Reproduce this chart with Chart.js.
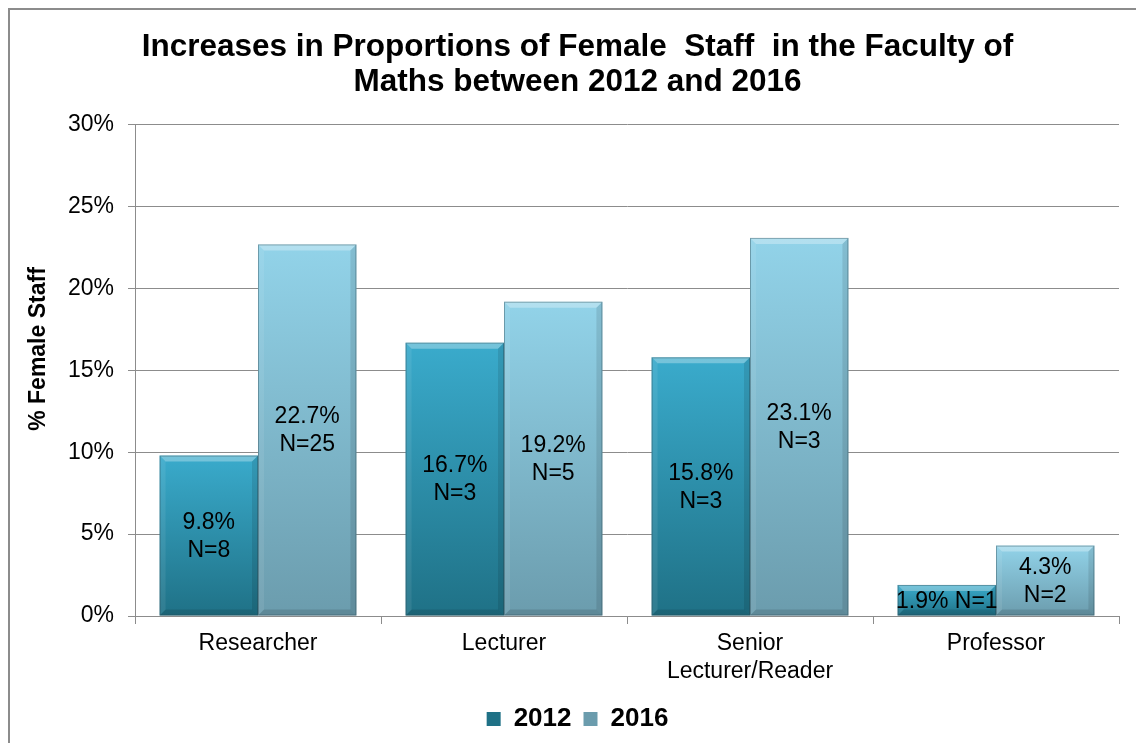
<!DOCTYPE html>
<html>
<head>
<meta charset="utf-8">
<script src="https://cdn.jsdelivr.net/npm/chart.js@4.4.1/dist/chart.umd.min.js"></script>
<style>
  html, body { margin: 0; padding: 0; background: #fff; }
  #wrap { width: 1136px; height: 743px; }
</style>
</head>
<body>
<div id="wrap"><canvas id="staffChart" width="1136" height="743"></canvas></div>
<script>
const categories = ["Researcher", "Lecturer", ["Senior", "Lecturer/Reader"], "Professor"];
const values2012 = [9.8, 16.7, 15.8, 1.9];
const values2016 = [22.7, 19.2, 23.1, 4.3];
const counts2012 = [8, 3, 3, 1];
const counts2016 = [25, 5, 3, 2];
const yTicks = [0, 5, 10, 15, 20, 25, 30];

const FONT = "'Liberation Sans', Arial, sans-serif";

/* vertical gradient across each bar */
function barFill(ctx, topColor, bottomColor, flat) {
    if (ctx.type !== "data") return flat;
    const chart = ctx.chart;
    const y = chart.scales.y;
    if (!chart.chartArea || !y) return flat;
    const y0 = y.getPixelForValue(ctx.raw);
    const y1 = y.getPixelForValue(0);
    if (!isFinite(y0) || !isFinite(y1) || y0 === y1) return flat;
    const g = chart.ctx.createLinearGradient(0, y0, 0, y1);
    g.addColorStop(0, topColor);
    g.addColorStop(1, bottomColor);
    return g;
}

/* chart frame + y axis title */
const framePlugin = {
    id: "frame",
    beforeDraw(chart) {
        const c = chart.ctx;
        c.save();
        c.fillStyle = "#fff";
        c.fillRect(0, 0, chart.width, chart.height);
        c.strokeStyle = "#8c8c8c";
        c.lineWidth = 2;
        c.strokeRect(9, 9, chart.width + 20, chart.height + 20);
        c.restore();
    },
    afterDraw(chart) {
        const c = chart.ctx;
        c.save();
        c.translate(39, 349);
        c.rotate(-Math.PI / 2);
        c.fillStyle = "#000";
        c.font = "bold 23px " + FONT;
        c.textAlign = "center";
        c.textBaseline = "middle";
        c.fillText("% Female Staff", 0, 0);
        c.restore();
    }
};

/* bevel edges + value labels */
const bevelPlugin = {
    id: "bevel",
    afterDatasetsDraw(chart) {
        const c = chart.ctx;
        const counts = [counts2012, counts2016];
        chart.data.datasets.forEach((ds, di) => {
            const meta = chart.getDatasetMeta(di);
            meta.data.forEach((bar, i) => {
                const l = bar.x - bar.width / 2, r = bar.x + bar.width / 2;
                const t = bar.y, b = bar.base;
                const e = Math.min(6, (b - t) / 2);
                c.save();
                c.fillStyle = "rgba(255,255,255,0.3)";
                c.beginPath();
                c.moveTo(l, t); c.lineTo(r, t); c.lineTo(r - e, t + e); c.lineTo(l + e, t + e);
                c.closePath(); c.fill();
                c.fillStyle = "rgba(255,255,255,0.08)";
                c.beginPath();
                c.moveTo(l, t); c.lineTo(l + e, t + e); c.lineTo(l + e, b - e); c.lineTo(l, b);
                c.closePath(); c.fill();
                c.fillStyle = "rgba(0,0,0,0.1)";
                c.beginPath();
                c.moveTo(r, t); c.lineTo(r - e, t + e); c.lineTo(r - e, b - e); c.lineTo(r, b);
                c.closePath(); c.fill();
                c.fillStyle = "rgba(0,0,0,0.12)";
                c.beginPath();
                c.moveTo(l, b); c.lineTo(l + e, b - e); c.lineTo(r - e, b - e); c.lineTo(r, b);
                c.closePath(); c.fill();
                c.strokeStyle = "rgba(40,70,80,0.4)";
                c.lineWidth = 1;
                c.strokeRect(l + 0.5, t + 0.5, r - l - 1, b - t - 1);
                c.restore();

                // labels
                const pct = ds.data[i].toFixed(1) + "%";
                const n = "N=" + counts[di][i];
                const cy = (t + b) / 2;
                c.save();
                c.fillStyle = "#000";
                c.font = "23px " + FONT;
                c.textAlign = "center";
                c.textBaseline = "middle";
                if (b - t < 50) {
                    c.fillText(pct + " " + n, bar.x, cy + 1);
                } else {
                    c.fillText(pct, bar.x, cy - 13);
                    c.fillText(n, bar.x, cy + 15);
                }
                c.restore();
            });
        });
    }
};

new Chart(document.getElementById("staffChart"), {
    type: "bar",
    data: {
        labels: categories,
        datasets: [
            {
                label: "2012",
                data: values2012,
                backgroundColor: ctx => barFill(ctx, "#3aabcc", "#1f7186", "#2e9ab6"),
                borderWidth: 0
            },
            {
                label: "2016",
                data: values2016,
                backgroundColor: ctx => barFill(ctx, "#92d3e9", "#6b9cad", "#8cc6da"),
                borderWidth: 0
            }
        ]
    },
    options: {
        responsive: false,
        animation: false,
        categoryPercentage: 0.8,
        barPercentage: 1.0,
        layout: { padding: { left: 36, right: 17, top: 0, bottom: 1 } },
        plugins: {
            title: {
                display: true,
                text: ["Increases in Proportions of Female  Staff  in the Faculty of", "Maths between 2012 and 2016"],
                color: "#000",
                font: { family: FONT, size: 31.5, weight: "bold", lineHeight: 1.11 },
                padding: { top: 30, bottom: 25 }
            },
            legend: {
                position: "bottom",
                labels: {
                    color: "#000",
                    font: { family: FONT, size: 26, weight: "bold" },
                    boxWidth: 14,
                    boxHeight: 14,
                    padding: 12
                }
            },
            tooltip: { enabled: false }
        },
        scales: {
            x: {
                afterFit: s => { s.height = 78; },
                grid: { display: true, drawOnChartArea: false, offset: true, tickLength: 8, color: "#8c8c8c" },
                border: { color: "#8c8c8c" },
                ticks: { color: "#000", font: { family: FONT, size: 23, lineHeight: 1.22 }, padding: 6, maxRotation: 0 }
            },
            y: {
                min: 0,
                max: 30,
                afterFit: s => { s.width = 99; },
                afterBuildTicks: s => { s.ticks = yTicks.map(v => ({ value: v })); },
                grid: { color: "#8c8c8c", tickLength: 7 },
                border: { color: "#8c8c8c" },
                ticks: { color: "#000", font: { family: FONT, size: 23 }, padding: 14, callback: v => v + "%" }
            }
        }
    },
    plugins: [framePlugin, bevelPlugin]
});
</script>
</body>
</html>
